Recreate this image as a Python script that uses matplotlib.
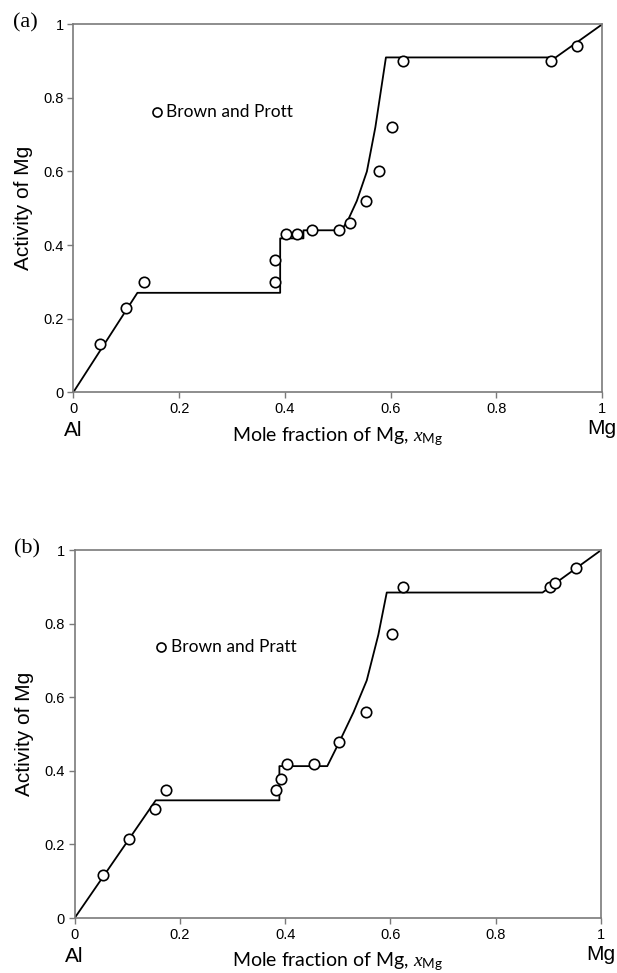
import matplotlib
matplotlib.use('Agg')
import matplotlib.pyplot as plt

plt.rcParams['mathtext.fontset'] = 'custom'
plt.rcParams['mathtext.it'] = 'Liberation Serif:italic'
plt.rcParams['mathtext.rm'] = 'Lato'

# panel (a) experimental points
xa_pts = [0.05, 0.10, 0.133, 0.382, 0.382, 0.402, 0.422, 0.452, 0.503, 0.523, 0.553, 0.578, 0.602, 0.623, 0.903, 0.952]
ya_pts = [0.13, 0.23, 0.30, 0.30, 0.36, 0.43, 0.43, 0.44, 0.44, 0.46, 0.52, 0.60, 0.72, 0.90, 0.90, 0.94]
# panel (a) calculated curve
xa_line = [0.0, 0.121, 0.391, 0.391, 0.435, 0.435, 0.507, 0.52, 0.536, 0.555, 0.571, 0.591, 0.912, 1.0]
ya_line = [0.0, 0.27, 0.27, 0.418, 0.418, 0.44, 0.44, 0.47, 0.52, 0.60, 0.72, 0.91, 0.91, 1.0]

# panel (b) experimental points
xb_pts = [0.054, 0.103, 0.152, 0.173, 0.382, 0.393, 0.403, 0.454, 0.503, 0.554, 0.603, 0.623, 0.903, 0.913, 0.953]
yb_pts = [0.116, 0.216, 0.297, 0.347, 0.347, 0.379, 0.418, 0.418, 0.479, 0.559, 0.771, 0.90, 0.90, 0.911, 0.951]
# panel (b) calculated curve
xb_line = [0.0, 0.154, 0.389, 0.389, 0.480, 0.503, 0.53, 0.555, 0.577, 0.593, 0.889, 1.0]
yb_line = [0.0, 0.32, 0.32, 0.413, 0.413, 0.479, 0.56, 0.646, 0.77, 0.885, 0.885, 1.0]

ticks = [0, 0.2, 0.4, 0.6, 0.8, 1]
tick_labels = ['0', '0.2', '0.4', '0.6', '0.8', '1']

panels = [
    ('(a)', [0.119, 0.597, 0.857, 0.378], xa_pts, ya_pts, xa_line, ya_line, 'Brown and Prott', (0.158, 0.762)),
    ('(b)', [0.121, 0.0565, 0.853, 0.378], xb_pts, yb_pts, xb_line, yb_line, 'Brown and Pratt', (0.165, 0.737)),
]


def draw_panel(fig, tag, rect, xp, yp, xl, yl, legend_text, legend_pos):
    ax = fig.add_axes(rect)
    ax.plot(xl, yl, color='black', lw=1.3, zorder=2)
    ax.plot(xp, yp, 'o', mfc='white', mec='black', ms=7.5, mew=1.2, zorder=3)
    ax.set_xlim(0, 1)
    ax.set_ylim(0, 1)
    ax.set_xticks(ticks)
    ax.set_xticklabels(tick_labels)
    ax.set_yticks(ticks)
    ax.set_yticklabels(tick_labels)
    for sp in ax.spines.values():
        sp.set_color('#7a7a7a')
        sp.set_linewidth(1.2)
    ax.tick_params(direction='out', length=4, width=1, color='#7a7a7a',
                   labelsize=10.5, pad=3)
    for lab in ax.get_xticklabels() + ax.get_yticklabels():
        lab.set_fontfamily('Liberation Sans')
    ax.set_ylabel('Activity of Mg', fontsize=15, family='Liberation Sans')
    ax.yaxis.set_label_coords(-0.077, 0.5)

    # legend marker and text
    ax.plot([legend_pos[0]], [legend_pos[1]], 'o', mfc='white', mec='black', ms=6.5, mew=1.2)
    ax.text(legend_pos[0] + 0.018, legend_pos[1], legend_text, fontsize=12.5,
            family='Lato', va='center', ha='left')

    ax.text(0.5, -0.12, r'Mole fraction of Mg, $x_{\mathrm{Mg}}$', transform=ax.transAxes,
            ha='center', va='center', fontsize=14, family='Lato')
    ax.text(0.0, -0.104, 'Al', transform=ax.transAxes, ha='center', va='center',
            fontsize=15, family='Liberation Sans')
    ax.text(1.0, -0.1, 'Mg', transform=ax.transAxes, ha='center', va='center',
            fontsize=15, family='Liberation Sans')
    ax.text(-0.09, 1.005, tag, transform=ax.transAxes, ha='center', va='center',
            fontsize=16, family='Liberation Serif')
    return ax


def main():
    fig = plt.figure(figsize=(6.17, 9.73), dpi=100)
    for p in panels:
        draw_panel(fig, *p)
    fig.savefig('out.png', dpi=100, facecolor='white')


if __name__ == "__main__":
    main()
